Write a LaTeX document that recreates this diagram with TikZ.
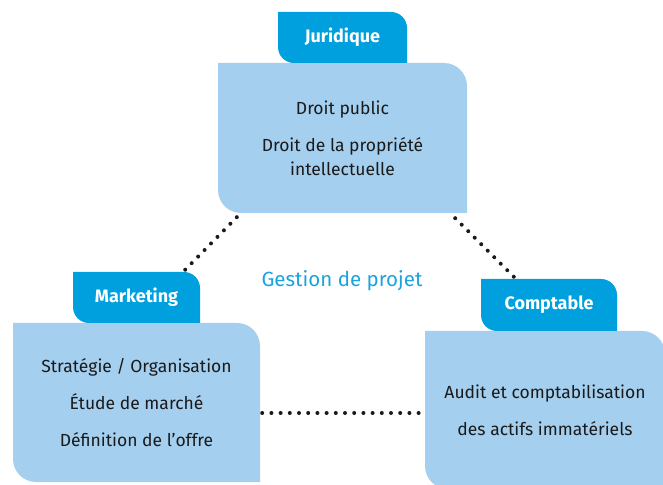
\documentclass[tikz,border=0pt]{standalone}
\usepackage{fontspec}
\setmainfont{Fira Sans}
\definecolor{tabblue}{HTML}{00A0DE}
\definecolor{boxblue}{HTML}{A4CFEF}
\definecolor{inkgray}{HTML}{1A1A1A}
\definecolor{titleblue}{HTML}{1BA3DE}
% fill the node with square top-left / bottom-right corners and
% rounded top-right / bottom-left corners of radius #2
\newcommand\fillcard[2]{%
  \fill[#1] (path picture bounding box.north west)
    -- ([xshift=-#2]path picture bounding box.north east)
    arc[start angle=90,end angle=0,radius=#2]
    -- (path picture bounding box.south east)
    -- ([xshift=#2]path picture bounding box.south west)
    arc[start angle=270,end angle=180,radius=#2] -- cycle;}
\tikzset{
  tabbox/.style={rectangle, inner sep=0pt, minimum height=51pt,
    path picture={\fillcard{tabblue}{16pt}},
    text=white, font=\fontsize{18}{20}\selectfont\bfseries},
  cardbox/.style={rectangle, inner sep=0pt, align=center,
    path picture={\fillcard{boxblue}{23pt}},
    text=inkgray, font=\fontsize{17.5}{24}\selectfont},
  dots/.style={line width=4pt, line cap=round, dash pattern=on 0pt off 9.2pt, inkgray}
}
\begin{document}
\begin{tikzpicture}[x=1pt,y=1pt]
\useasboundingbox (0,0) rectangle (663,484);

% Juridique
\node[cardbox, minimum width=249pt, minimum height=150pt] (jur) at (342.5,346)
  {Droit public\\[13pt]Droit de la propriété\\intellectuelle};
\node[tabbox, minimum width=129pt] (jtab) at (342.5,446.5) {Juridique};

% Marketing
\node[cardbox, minimum width=247pt, minimum height=159pt] (mbox) at (136.5,81.5)
  {Stratégie / Organisation\\[13pt]Étude de marché\\[13pt]Définition de l’offre};
\node[tabbox, minimum width=127pt] (mtab) at (136.5,186.5) {Marketing};

% Comptable
\node[cardbox, minimum width=240pt, minimum height=158pt] (cbox) at (545,74)
  {Audit et comptabilisation\\[13pt]des actifs immatériels};
\node[tabbox, minimum width=136pt, minimum height=52pt] (ctab) at (549,179) {Comptable};

% centre label
\node[text=titleblue, font=\fontsize{20.5}{24}\selectfont] (gp) at (342,203) {Gestion de projet};

% dotted links
\draw[dots] ([xshift=19pt,yshift=-4pt]jur.south west) -- ([xshift=-17pt]mtab.north east);
\draw[dots] ([xshift=-12pt,yshift=-5pt]jur.south east) -- ([xshift=34pt,yshift=1pt]ctab.north west);
\draw[dots] ([xshift=2pt,yshift=-10.5pt]mbox.east) -- ([xshift=-2pt,yshift=-3pt]cbox.west);
\end{tikzpicture}
\end{document}
